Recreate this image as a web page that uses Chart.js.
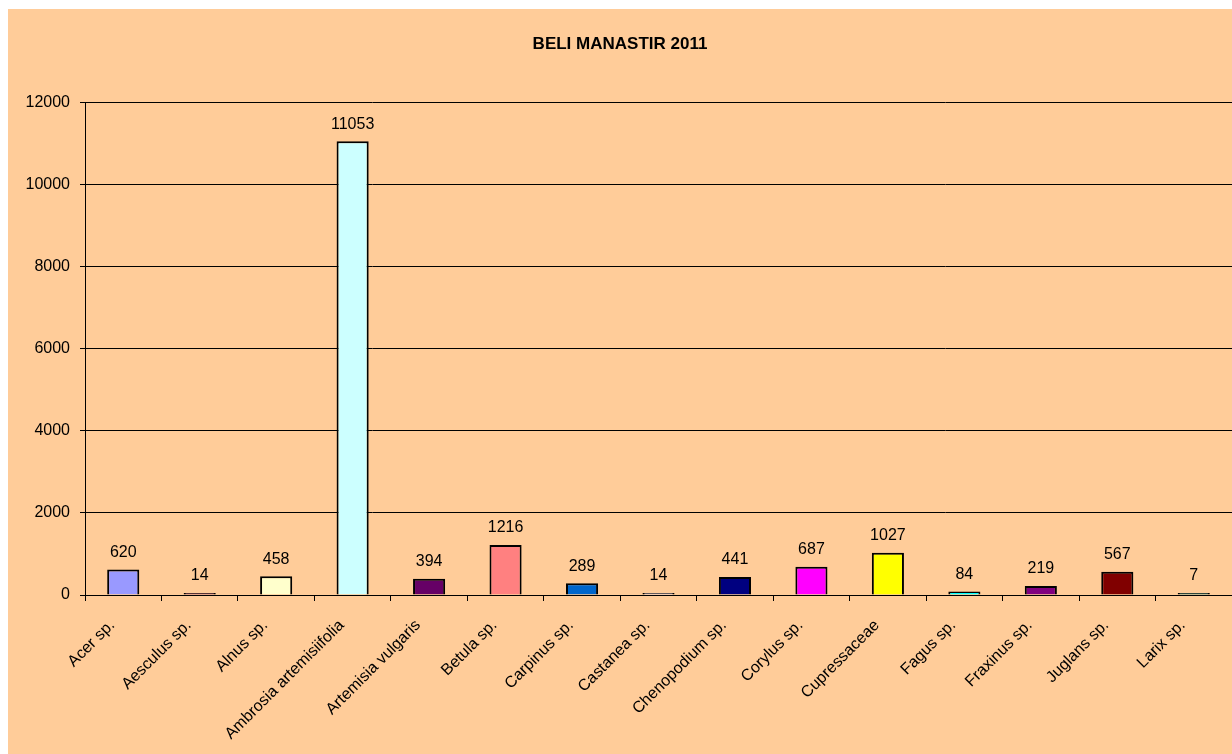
<!DOCTYPE html>
<html>
<head>
<meta charset="utf-8">
<script src="https://cdn.jsdelivr.net/npm/chart.js@4/dist/chart.umd.min.js"></script>
<style>
  html, body { margin: 0; padding: 0; background: #fff; }
  #wrap { position: absolute; left: 8px; top: 9px; width: 1224px; height: 745px; background: #FFCC99; }
</style>
</head>
<body>
<div id="wrap"><canvas id="bar-chart"></canvas></div>
<script>
const categories = ['Acer sp.', 'Aesculus sp.', 'Alnus sp.', 'Ambrosia artemisiifolia', 'Artemisia vulgaris',
  'Betula sp.', 'Carpinus sp.', 'Castanea sp.', 'Chenopodium sp.', 'Corylus sp.', 'Cupressaceae',
  'Fagus sp.', 'Fraxinus sp.', 'Juglans sp.', 'Larix sp.'];
const counts = [620, 14, 458, 11053, 394, 1216, 289, 14, 441, 687, 1027, 84, 219, 567, 7];
const barColors = ['#9999FF', '#993366', '#FFFFCC', '#CCFFFF', '#660066', '#FF8080', '#0066CC', '#CCCCFF',
  '#000080', '#FF00FF', '#FFFF00', '#00FFFF', '#800080', '#800000', '#008080'];
const chartTitle = 'BELI MANASTIR 2011';

const FONT = 'Arial, "Liberation Sans", sans-serif';

// writes the count above each bar
const valueLabels = {
  id: 'valueLabels',
  afterDatasetsDraw(chart) {
    const ctx = chart.ctx;
    const meta = chart.getDatasetMeta(0);
    ctx.save();
    ctx.font = '16px ' + FONT;
    ctx.fillStyle = '#000';
    ctx.textAlign = 'center';
    ctx.textBaseline = 'bottom';
    meta.data.forEach((bar, i) => {
      ctx.fillText(String(counts[i]), bar.x, bar.y - 9);
    });
    ctx.restore();
  }
};

function initializeChart() {
  const ctx = document.getElementById('bar-chart').getContext('2d');
  return new Chart(ctx, {
    type: 'bar',
    data: {
      labels: categories,
      datasets: [{
        data: counts,
        backgroundColor: barColors,
        borderColor: '#000',
        borderWidth: 2,
        minBarLength: 2,
        categoryPercentage: 1,
        barPercentage: 0.42
      }]
    },
    options: {
      responsive: true,
      maintainAspectRatio: false,
      animation: false,
      layout: { padding: 0 },
      plugins: {
        legend: { display: false },
        tooltip: { enabled: false },
        title: {
          display: true,
          text: chartTitle,
          color: '#000',
          font: { family: FONT, size: 17, weight: 'bold' },
          padding: { top: 25, bottom: 48 }
        }
      },
      scales: {
        x: {
          grid: { display: true, drawOnChartArea: false, drawTicks: true, tickLength: 6, color: '#000' },
          border: { color: '#000', width: 1 },
          ticks: {
            color: '#000',
            font: { family: FONT, size: 16 },
            minRotation: 45,
            maxRotation: 45,
            autoSkip: false,
            padding: 15,
            labelOffset: -11
          },
          afterFit(scale) { scale.height = 159; }
        },
        y: {
          min: 0,
          max: 12000,
          ticks: {
            stepSize: 2000,
            color: '#000',
            font: { family: FONT, size: 16 },
            padding: 10,
            callback: v => String(v)
          },
          grid: { color: '#000', lineWidth: 1, tickLength: 5 },
          border: { color: '#000', width: 1 },
          afterFit(scale) { scale.width = 77; }
        }
      }
    },
    plugins: [valueLabels]
  });
}

initializeChart();
</script>
</body>
</html>
